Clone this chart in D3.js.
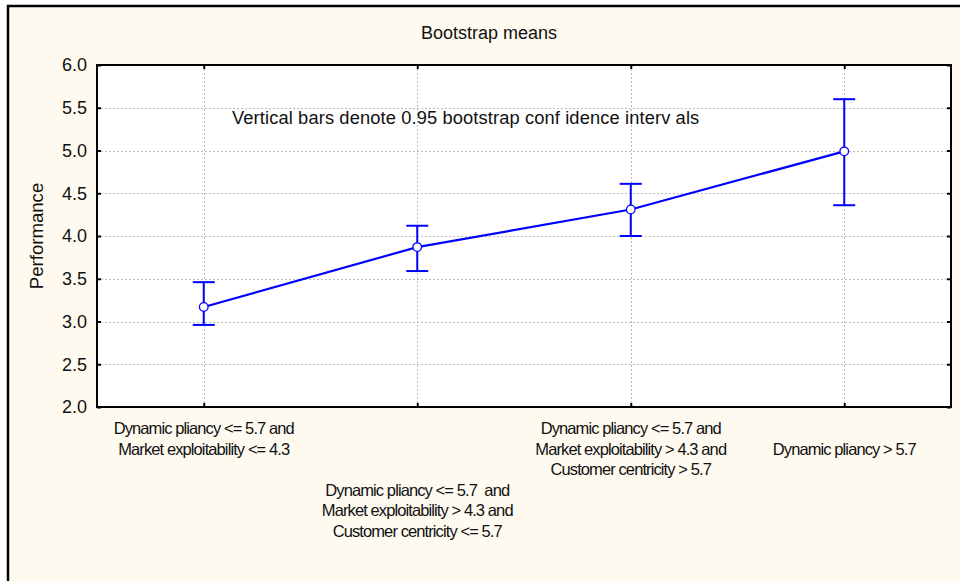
<!DOCTYPE html>
<html>
<head>
<meta charset="utf-8">
<script src="https://cdn.jsdelivr.net/npm/d3@7"></script>
<style>
  html, body { margin: 0; padding: 0; background: #ffffff; }
  svg { display: block; }
  text { font-family: "Liberation Sans", Arial, sans-serif; fill: #111; }
</style>
</head>
<body>
<svg id="chart" width="960" height="581"></svg>
<script>
// Group labels (one entry per line of text)
const categories = [
  ["Dynamic pliancy <= 5.7 and", "Market exploitability <= 4.3"],
  ["Dynamic pliancy <= 5.7  and", "Market exploitability > 4.3 and", "Customer centricity <= 5.7"],
  ["Dynamic pliancy <= 5.7 and", "Market exploitability > 4.3 and", "Customer centricity > 5.7"],
  ["Dynamic pliancy > 5.7"]
];
// Bootstrap means and 0.95 confidence limits
const means = [3.17, 3.87, 4.31, 4.99];
const lower = [2.96, 3.59, 4.00, 4.36];
const upper = [3.46, 4.12, 4.61, 5.60];
const yTicks = [2.0, 2.5, 3.0, 3.5, 4.0, 4.5, 5.0, 5.5, 6.0];

const title = "Bootstrap means";
const yTitle = "Performance";
const note = "Vertical bars denote 0.95 bootstrap conf idence interv als";

const svg = d3.select("#chart");
const W = 960, H = 581;
const plot = { left: 97, top: 65, right: 951, bottom: 407 };
const blue = "#0000ff";
const fontMain = 18;

// Cream panel with dark frame
svg.append("rect")
  .attr("x", 8).attr("y", 6)
  .attr("width", W + 20).attr("height", H + 20)
  .attr("fill", "#fefaf0")
  .attr("stroke", "#000").attr("stroke-width", 2.5);

const idx = d3.range(means.length);
const x = d3.scalePoint().domain(idx).range([plot.left, plot.right]).padding(0.5);
const y = d3.scaleLinear().domain([2, 6]).range([plot.bottom, plot.top]);

// Plot area
svg.append("rect")
  .attr("x", plot.left).attr("y", plot.top)
  .attr("width", plot.right - plot.left).attr("height", plot.bottom - plot.top)
  .attr("fill", "#ffffff");

// Dotted grid
const grid = svg.append("g")
  .attr("stroke", "#bdbdbd").attr("stroke-width", 1).attr("stroke-dasharray", "2,2");
grid.selectAll("line.h").data(yTicks.filter(t => t > 2 && t < 6)).join("line")
  .attr("x1", plot.left).attr("x2", plot.right)
  .attr("y1", d => Math.round(y(d)) + 0.5).attr("y2", d => Math.round(y(d)) + 0.5);
grid.selectAll("line.v").data(idx).join("line")
  .attr("y1", plot.top).attr("y2", plot.bottom)
  .attr("x1", d => Math.round(x(d)) + 0.5).attr("x2", d => Math.round(x(d)) + 0.5);

// Axes with inward ticks on all four sides
const tickLen = -4;
const leftAxis = d3.axisLeft(y).tickValues(yTicks).tickFormat(d3.format(".1f")).tickSizeInner(tickLen).tickSizeOuter(0).tickPadding(10);
const rightAxis = d3.axisRight(y).tickValues(yTicks).tickFormat("").tickSizeInner(tickLen).tickSizeOuter(0);
const bottomAxis = d3.axisBottom(x).tickFormat("").tickSizeInner(tickLen).tickSizeOuter(0);
const topAxis = d3.axisTop(x).tickFormat("").tickSizeInner(tickLen).tickSizeOuter(0);

function styleAxis(g) {
  g.select(".domain").remove();
  g.selectAll(".tick line").attr("stroke", "#000").attr("stroke-width", 2);
}
const gl = svg.append("g").attr("transform", `translate(${plot.left},0)`).call(leftAxis).call(styleAxis);
gl.selectAll(".tick text")
  .attr("font-size", fontMain).attr("font-family", "Liberation Sans, Arial, sans-serif").attr("fill", "#111");
svg.append("g").attr("transform", `translate(${plot.right},0)`).call(rightAxis).call(styleAxis);
svg.append("g").attr("transform", `translate(0,${plot.bottom})`).call(bottomAxis).call(styleAxis);
svg.append("g").attr("transform", `translate(0,${plot.top})`).call(topAxis).call(styleAxis);

// Plot frame
svg.append("rect")
  .attr("x", plot.left).attr("y", plot.top)
  .attr("width", plot.right - plot.left).attr("height", plot.bottom - plot.top)
  .attr("fill", "none").attr("stroke", "#000").attr("stroke-width", 2);

// Error bars
const capHalf = 11;
const eb = svg.append("g").attr("stroke", blue).attr("stroke-width", 2).attr("fill", "none");
eb.selectAll("line.stem").data(idx).join("line")
  .attr("x1", d => x(d)).attr("x2", d => x(d))
  .attr("y1", d => y(lower[d])).attr("y2", d => y(upper[d]));
eb.selectAll("line.cap-hi").data(idx).join("line")
  .attr("x1", d => x(d) - capHalf).attr("x2", d => x(d) + capHalf)
  .attr("y1", d => y(upper[d])).attr("y2", d => y(upper[d]));
eb.selectAll("line.cap-lo").data(idx).join("line")
  .attr("x1", d => x(d) - capHalf).attr("x2", d => x(d) + capHalf)
  .attr("y1", d => y(lower[d])).attr("y2", d => y(lower[d]));

// Mean line and markers
svg.append("path")
  .datum(idx)
  .attr("fill", "none").attr("stroke", blue).attr("stroke-width", 2.2)
  .attr("d", d3.line().x(d => x(d)).y(d => y(means[d])));
svg.append("g").selectAll("circle").data(idx).join("circle")
  .attr("cx", d => x(d)).attr("cy", d => y(means[d])).attr("r", 4.3)
  .attr("fill", "#fff").attr("stroke", blue).attr("stroke-width", 1.3);

// Title, axis title, note
svg.append("text").attr("x", 489).attr("y", 39).attr("text-anchor", "middle")
  .attr("font-size", fontMain).text(title);
svg.append("text")
  .attr("transform", `translate(43,${(plot.top + plot.bottom) / 2}) rotate(-90)`)
  .attr("text-anchor", "middle").attr("font-size", 18.6).text(yTitle);
svg.append("text").attr("x", 232).attr("y", 124).attr("font-size", 18.3)
  .attr("letter-spacing", 0.12).text(note);

// Category labels, staggered into levels when neighbours crowd each other
const lineH = 20.5, rowsPerLevel = 3, firstLine = 434, minGap = 30;
const labelG = svg.append("g");
const levelEnds = [];
categories.forEach((lines, i) => {
  const t = labelG.append("text")
    .attr("text-anchor", "middle").attr("font-size", 16.5).attr("letter-spacing", -0.9)
    .style("white-space", "pre");
  lines.forEach(s => t.append("tspan").attr("x", x(i)).text(s));
  const w = d3.max(t.selectAll("tspan").nodes(), n => n.getComputedTextLength());
  const x0 = x(i) - w / 2, x1 = x(i) + w / 2;
  let level = 0;
  while (levelEnds[level] !== undefined && x0 - levelEnds[level] < minGap) level++;
  levelEnds[level] = x1;
  const startRow = level * rowsPerLevel + Math.floor((rowsPerLevel - lines.length) / 2);
  t.selectAll("tspan").attr("y", (d, k) => firstLine + (startRow + k) * lineH);
});
</script>
</body>
</html>
